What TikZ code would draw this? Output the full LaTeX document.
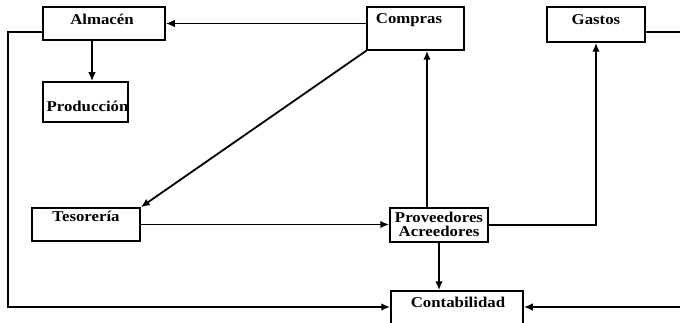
\documentclass[tikz,border=0pt]{standalone}
\usepackage{fontspec}
\setmainfont{Liberation Serif}[FakeStretch=1.12]
\usetikzlibrary{arrows.meta}
\begin{document}
\begin{tikzpicture}[x=1pt,y=1pt,
  box/.style={draw, line width=1.5pt, inner sep=0pt},
  lbl/.style={anchor=base, inner sep=0pt, font=\fontsize{15}{13.5}\selectfont\bfseries, align=center},
  arr/.style={draw, line width=1.8pt, -{Latex[length=9pt,width=7.5pt]}},
  ]
\useasboundingbox (0,0) rectangle (680,-323);
\clip (0,0) rectangle (680,-323);

% boxes
\node[box, minimum width=122pt, minimum height=33pt] (almacen) at (104,-23.5) {};
\node[box, minimum width=85pt, minimum height=40pt] (produccion) at (85.5,-102) {};
\node[box, minimum width=97pt, minimum height=43pt] (compras) at (415.5,-28.5) {};
\node[box, minimum width=98pt, minimum height=35pt] (gastos) at (596,-24.5) {};
\node[box, minimum width=108pt, minimum height=33pt] (tesoreria) at (86,-224.5) {};
\node[box, minimum width=98pt, minimum height=34pt] (proveedores) at (439,-225) {};
\node[box, minimum width=132pt, minimum height=44pt] (contabilidad) at (457,-313) {};

% labels
\node[lbl] (almacen-t) at (102,-25) {Almacén};
\node[lbl] (produccion-t) at (87.5,-112) {Producción};
\node[lbl] (compras-t) at (409,-24) {Compras};
\node[lbl] (gastos-t) at (596,-25) {Gastos};
\node[lbl] (tesoreria-t) at (86,-222) {Tesorería};
\node[lbl] (proveedores-t) at (439,-236.5) {Proveedores\\Acreedores};
\node[lbl] (contabilidad-t) at (458,-307) {Contabilidad};

% rails along the outer edges
\coordinate (rail-l) at (8,-307);
\coordinate (rail-r) at (683,-307);

% connectors
\path[arr] (compras.west |- almacen.east) -- (almacen.east);
\path[arr] ([xshift=-12pt]almacen.south) -- ([xshift=-12pt]almacen.south |- produccion.north);
\path[arr] ([yshift=-8.5pt]almacen.west) -| (rail-l) -- (rail-l -| contabilidad.west);
\path[arr] (compras.south west) -- (tesoreria.north east);
\path[arr] (tesoreria.east) -- (tesoreria.east -| proveedores.west);
\path[arr] ([xshift=-12pt]proveedores.north) -- ([xshift=-12pt]proveedores.north |- compras.south);
\path[arr] (proveedores.east) -| (gastos.south);
\path[arr] (proveedores.south) -- (proveedores.south |- contabilidad.north);
\path[arr] ([yshift=-7.5pt]gastos.east) -| (rail-r) -- (rail-r -| contabilidad.east);
\end{tikzpicture}
\end{document}
